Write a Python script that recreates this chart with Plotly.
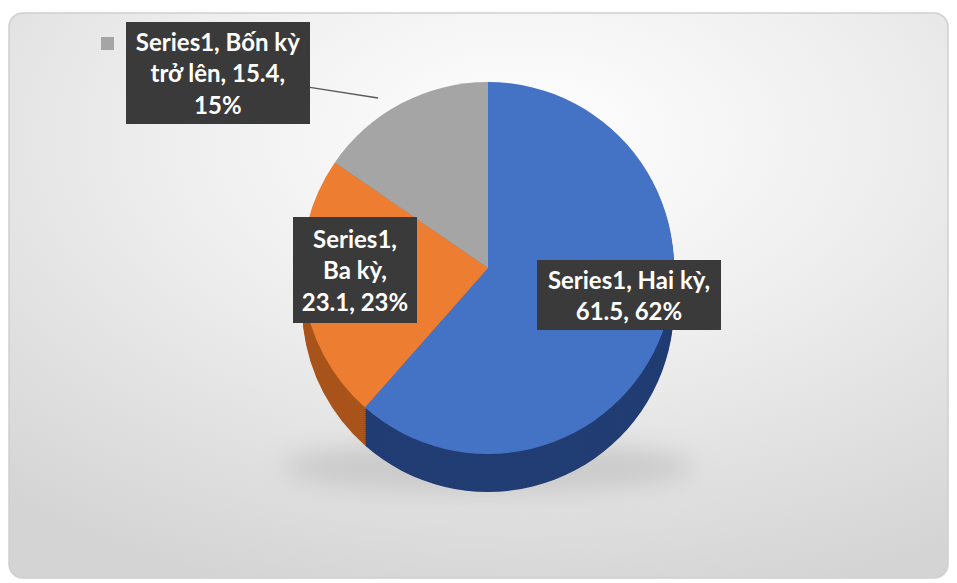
import base64
import textwrap
import plotly.graph_objects as go

# ---- data ----
series_name = "Series1"
categories = ["Hai kỳ", "Ba kỳ", "Bốn kỳ trở lên"]
values = [61.5, 23.1, 15.4]
colors_top = ["#4472C4", "#ED7D31", "#A5A5A5"]
colors_side = ["#213D73", "#A9541C", "#7A7A7A"]

# the page body has an 8px margin; work in page pixel coords and convert
OFF = 8
W, H = 957 - OFF, 583 - OFF
cx, cy, r = 488, 268, 186
depth = 38

total = sum(values)
pcts = [int(v / total * 100 + 0.5) for v in values]


def px(x):
    return (x - OFF) / W


def py(y):
    return 1 - (y - OFF) / H


def dom(cx, cy, r):
    return dict(x=[px(cx - r), px(cx + r)], y=[py(cy + r), py(cy - r)])


fig = go.Figure()

# side (3D depth) layers, deepest first
for d in range(depth, 0, -2):
    fig.add_trace(go.Pie(
        labels=categories, values=values, sort=False, direction="clockwise",
        rotation=0, textinfo="none", hoverinfo="skip", showlegend=False,
        marker=dict(colors=colors_side, line=dict(width=0)),
        domain=dom(cx, cy + d, r)))

# top face
fig.add_trace(go.Pie(
    labels=categories, values=values, sort=False, direction="clockwise",
    rotation=0, textinfo="none", showlegend=False, name=series_name,
    marker=dict(colors=colors_top, line=dict(width=0)),
    domain=dom(cx, cy, r)))

# background svg (rounded panel with radial gradient + soft shadow under pie)
bx0, by0, bx1, by1 = 8, 12, 949, 579
bw, bh = bx1 - bx0, by1 - by0
svg = f'''<svg xmlns="http://www.w3.org/2000/svg" width="{bw}" height="{bh}" viewBox="0 0 {bw} {bh}">
<defs>
<radialGradient id="g" cx="55%" cy="22%" r="85%">
<stop offset="0%" stop-color="#ffffff"/>
<stop offset="45%" stop-color="#eeeeee"/>
<stop offset="100%" stop-color="#d4d4d4"/>
</radialGradient>
<filter id="b" x="-50%" y="-50%" width="200%" height="200%"><feGaussianBlur stdDeviation="12"/></filter>
</defs>
<rect x="1" y="1" width="{bw-2}" height="{bh-2}" rx="14" ry="14" fill="url(#g)" stroke="#cfcfcf" stroke-width="1.5"/>
<ellipse cx="{cx-bx0}" cy="{cy+depth+r-by0-25}" rx="{r+20}" ry="26" fill="#b8b8b8" filter="url(#b)" opacity="0.55"/>
</svg>'''
src = "data:image/svg+xml;base64," + base64.b64encode(svg.encode("utf-8")).decode()

fig.update_layout(
    width=W, height=H,
    margin=dict(l=0, r=0, t=0, b=0),
    paper_bgcolor="white", plot_bgcolor="rgba(0,0,0,0)",
    images=[dict(source=src, xref="paper", yref="paper", x=px(bx0), y=py(by0),
                 sizex=bw / W, sizey=bh / H, sizing="stretch",
                 xanchor="left", yanchor="top", layer="below")],
)

# data labels
label_font = dict(family="Lato, 'Open Sans', sans-serif", size=24, color="white", weight="bold")
wraps = [16, 10, 15]
boxes = [  # centre x, centre y, text width, text height (px, page coords)
    (629, 295, 176, 62),
    (355, 270, 116, 98),
    (218, 73, 176, 94),
]
for i, (cat, v, p) in enumerate(zip(categories, values, pcts)):
    txt = f"{series_name}, {cat}, {v}, {p}%"
    lines = textwrap.wrap(txt, wraps[i])
    bx, by, bwid, bht = boxes[i]
    ann = dict(text="<br>".join(lines), xref="paper", yref="paper",
               font=label_font, bgcolor="#3A3A3A", borderpad=4,
               borderwidth=0, width=bwid, height=bht,
               align="center", valign="middle")
    if i == 2:
        tipx, tipy = 378, 98
        ann.update(x=px(tipx), y=py(tipy), showarrow=True, arrowhead=0,
                   arrowwidth=1.5, arrowcolor="#5A5A5A", standoff=0,
                   ax=bx - tipx, ay=by - tipy)
    else:
        ann.update(x=px(bx), y=py(by), showarrow=False,
                   xanchor="center", yanchor="middle")
    fig.add_annotation(**ann)

# legend key square in the gray label
fig.add_shape(type="rect", xref="paper", yref="paper",
              x0=px(101), x1=px(114), y0=py(50), y1=py(37),
              fillcolor=colors_top[2], line=dict(width=0))

fig.write_html("out.html")
